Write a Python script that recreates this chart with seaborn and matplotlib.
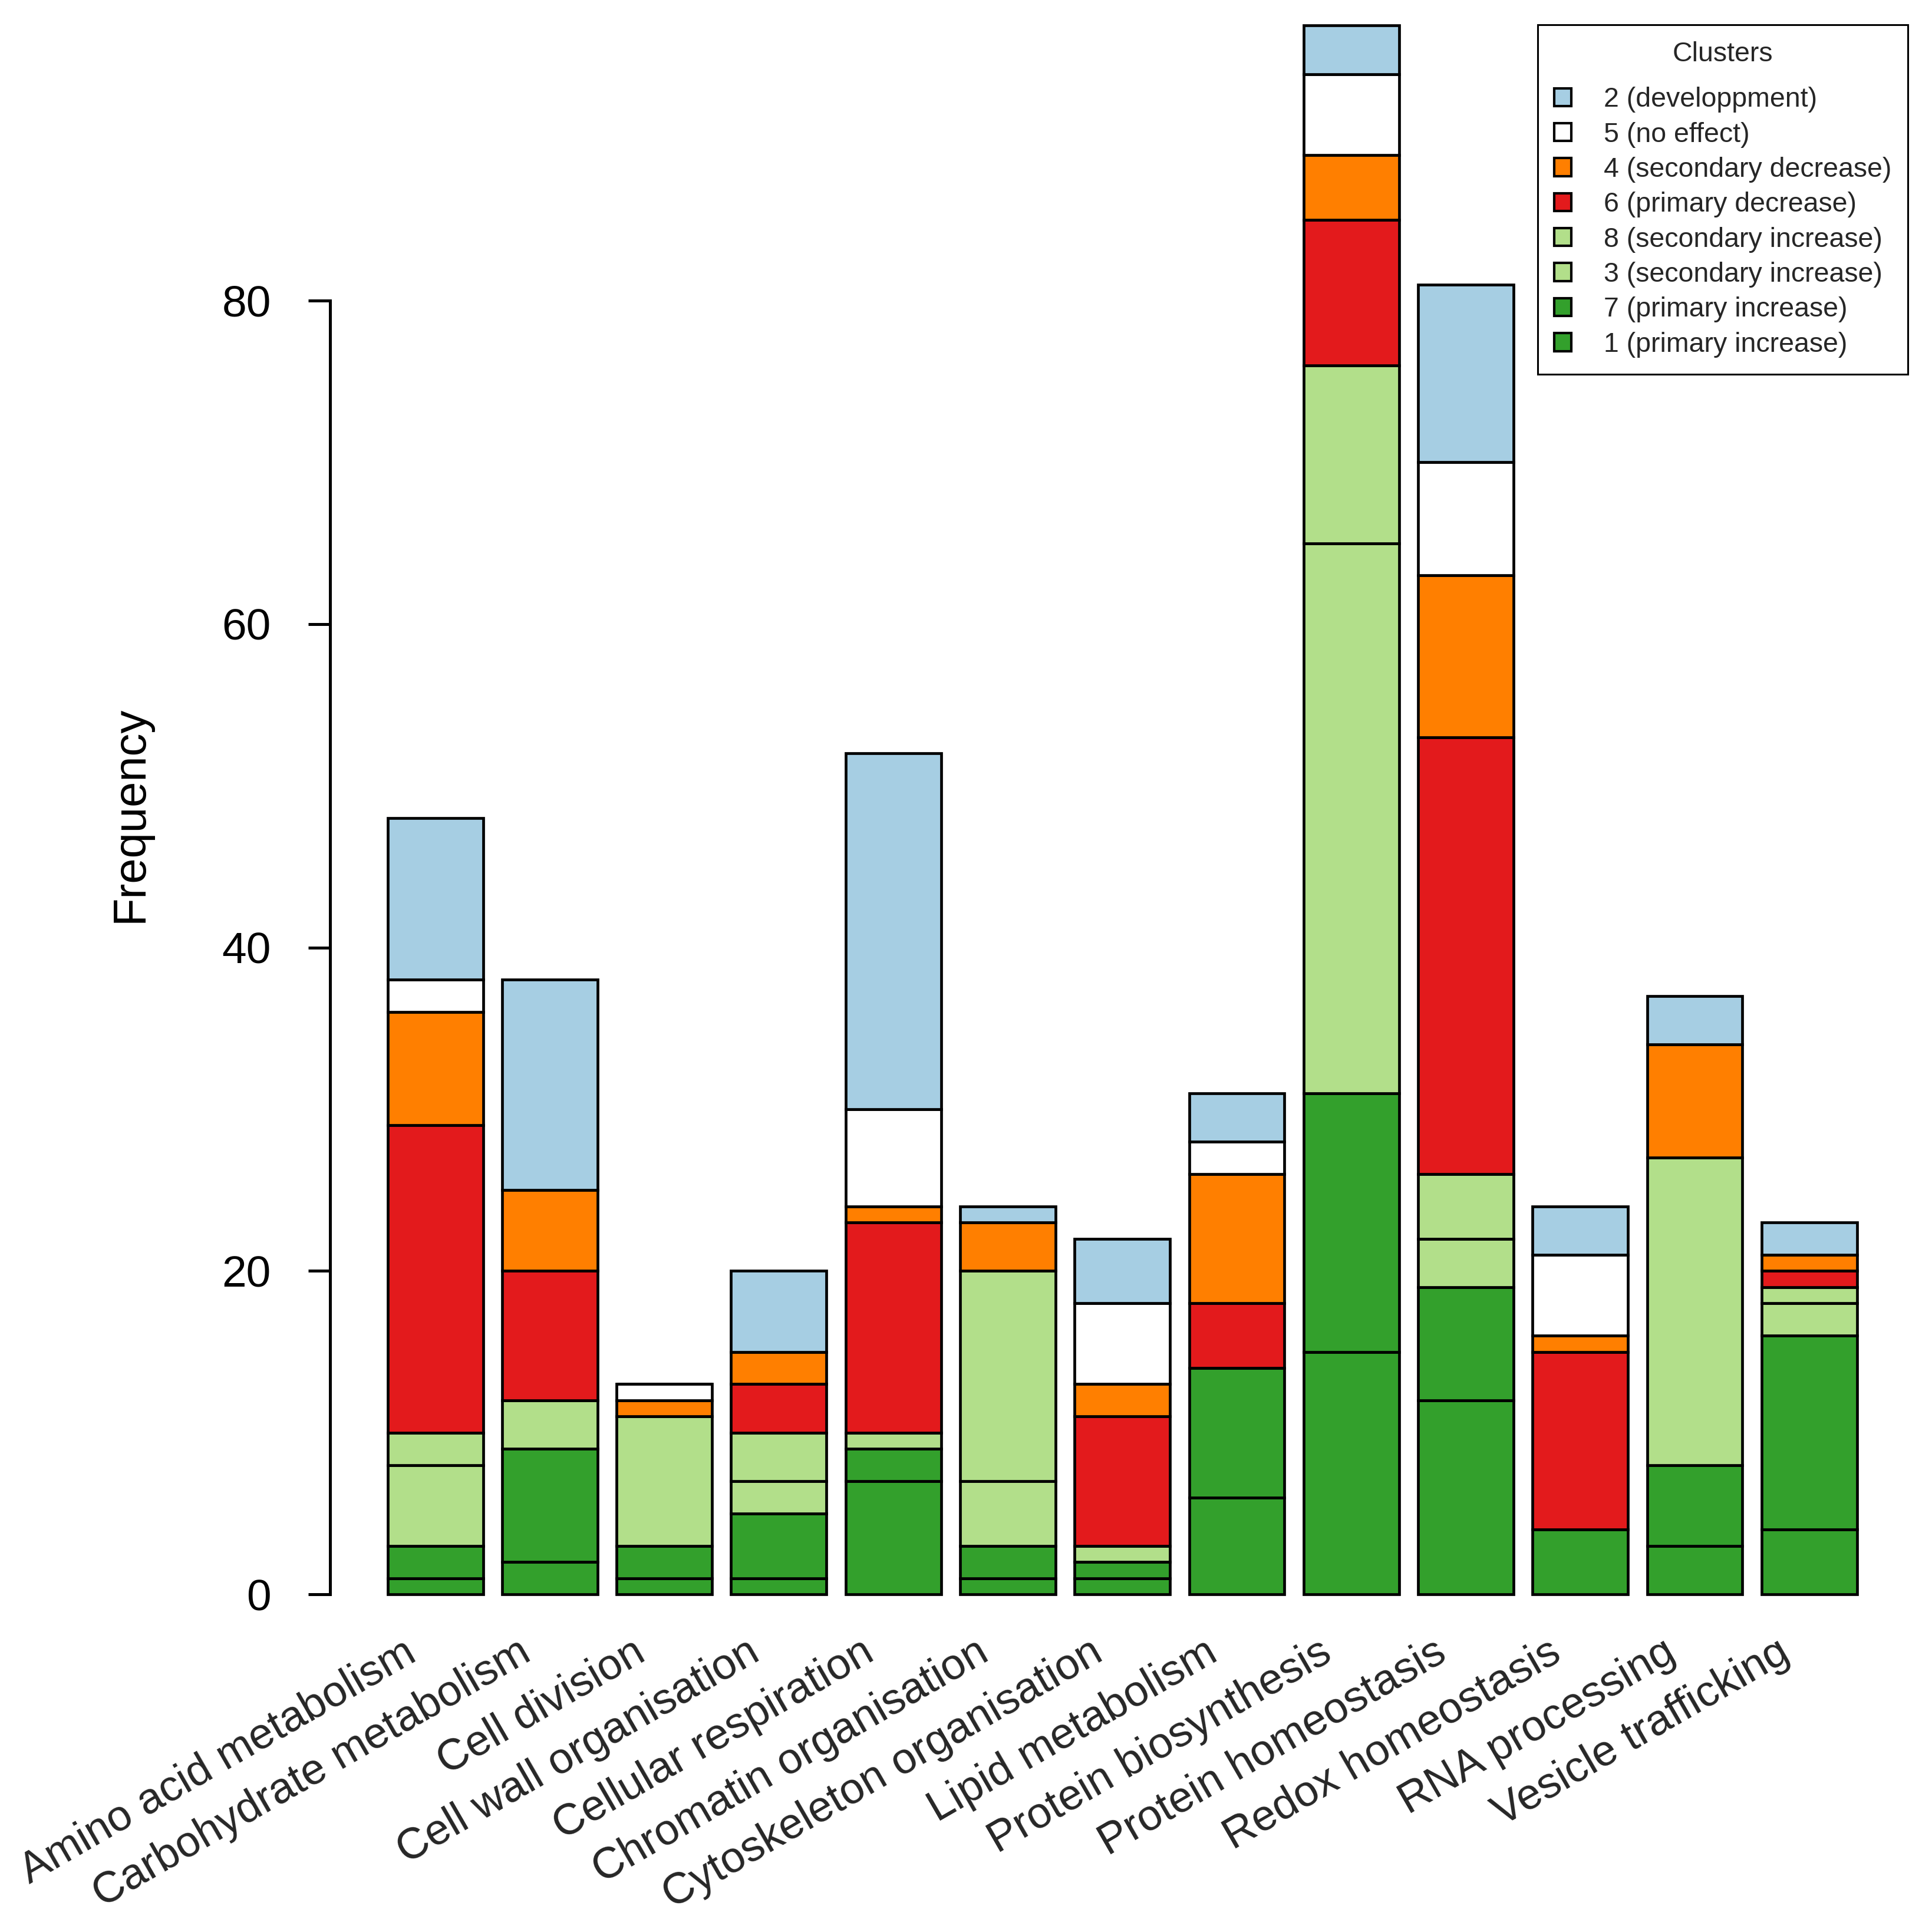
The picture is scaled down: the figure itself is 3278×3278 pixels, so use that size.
import numpy as np
import pandas as pd
import matplotlib
matplotlib.use("Agg")
import matplotlib.pyplot as plt
from matplotlib.patches import Patch
import seaborn as sns

# categories on the x axis
categories = ["Amino acid metabolism", "Carbohydrate metabolism", "Cell division",
              "Cell wall organisation", "Cellular respiration", "Chromatin organisation",
              "Cytoskeleton organisation", "Lipid metabolism", "Protein biosynthesis",
              "Protein homeostasis", "Redox homeostasis", "RNA processing",
              "Vesicle trafficking"]

# counts per cluster (stacked bottom -> top: 1, 7, 3, 8, 6, 4, 5, 2)
cl1 = [1, 2, 1, 1, 7, 1, 1, 6, 15, 12, 4, 3, 4]
cl7 = [2, 7, 2, 4, 2, 2, 1, 8, 16, 7, 0, 5, 12]
cl3 = [5, 3, 8, 2, 1, 4, 1, 0, 34, 3, 0, 19, 2]
cl8 = [2, 0, 0, 3, 0, 13, 0, 0, 11, 4, 0, 0, 1]
cl6 = [19, 8, 0, 3, 13, 0, 8, 4, 9, 27, 11, 0, 1]
cl4 = [7, 5, 1, 2, 1, 3, 2, 8, 4, 10, 1, 7, 1]
cl5 = [2, 0, 1, 0, 6, 0, 5, 2, 5, 7, 5, 0, 0]
cl2 = [10, 13, 0, 5, 22, 1, 4, 3, 3, 11, 3, 3, 2]

stack_order = ["1", "7", "3", "8", "6", "4", "5", "2"]
series = {"1": cl1, "7": cl7, "3": cl3, "8": cl8, "6": cl6, "4": cl4, "5": cl5, "2": cl2}
colors = {"1": "#33A02C", "7": "#33A02C", "3": "#B2DF8A", "8": "#B2DF8A",
          "6": "#E31A1C", "4": "#FF7F00", "5": "#FFFFFF", "2": "#A6CEE3"}
legend_order = ["2", "5", "4", "6", "8", "3", "7", "1"]
legend_labels = {"2": "2 (developpment)", "5": "5 (no effect)", "4": "4 (secondary decrease)",
                 "6": "6 (primary decrease)", "8": "8 (secondary increase)",
                 "3": "3 (secondary increase)", "7": "7 (primary increase)",
                 "1": "1 (primary increase)"}
yticks = [0, 20, 40, 60, 80]

sns.set_style("white")
plt.rcParams['font.family'] = ['Liberation Sans', 'DejaVu Sans']

fig = plt.figure(figsize=(32.78, 32.78), dpi=100)
ax = fig.add_axes([0.1708, 0.158, 0.7953, 0.8413])

bottom = np.zeros(len(categories))
for key in stack_order:
    vals = np.array(series[key], dtype=float)
    df = pd.DataFrame({"category": categories, "value": vals})
    sns.barplot(data=df, x="category", y="value", order=categories, color=colors[key],
                bottom=bottom, width=0.833, edgecolor="black", linewidth=3.4,
                saturation=1, ax=ax, errorbar=None)
    bottom += vals

ax.set_xlim(-0.92, 12.5)
ax.set_ylim(-2, 98.5)

for s in ["top", "right", "bottom"]:
    ax.spines[s].set_visible(False)
ax.spines["left"].set_bounds(0, 80)
ax.spines["left"].set_linewidth(3.6)
ax.spines["left"].set_color("black")

ax.set_yticks(yticks)
ax.set_yticklabels([str(t) for t in yticks])
ax.tick_params(axis="y", length=27, width=3.6, pad=45, labelsize=54, direction="out",
               left=True, colors="black")
ax.set_xticks([])
ax.set_xlabel("")
ax.set_ylabel("Frequency", fontsize=56, color="black")
ax.yaxis.set_label_coords(-0.116, 0.5)

for i, name in enumerate(categories):
    ax.text(i - 0.2, -3.4, name, rotation=30, ha="right", va="center",
            rotation_mode="anchor", fontsize=53, clip_on=False)

handles = [Patch(facecolor=colors[k], edgecolor="black", linewidth=3.0) for k in legend_order]
leg = fig.legend(handles, [legend_labels[k] for k in legend_order], title="Clusters",
                 loc="upper left", bbox_to_anchor=(0.7959, 0.9872),
                 bbox_transform=fig.transFigure, borderaxespad=0,
                 fontsize=33.5, title_fontsize=33.5,
                 frameon=True, fancybox=False, edgecolor="black", framealpha=1,
                 handlelength=0.63, handleheight=0.63, handletextpad=1.17,
                 labelspacing=0.33, borderpad=0.6, alignment="center")
leg.get_frame().set_linewidth(2.2)
# extra gap between the title and the first entry
leg._legend_box.sep = 24

fig.savefig("out.png", dpi=100, facecolor="white")
